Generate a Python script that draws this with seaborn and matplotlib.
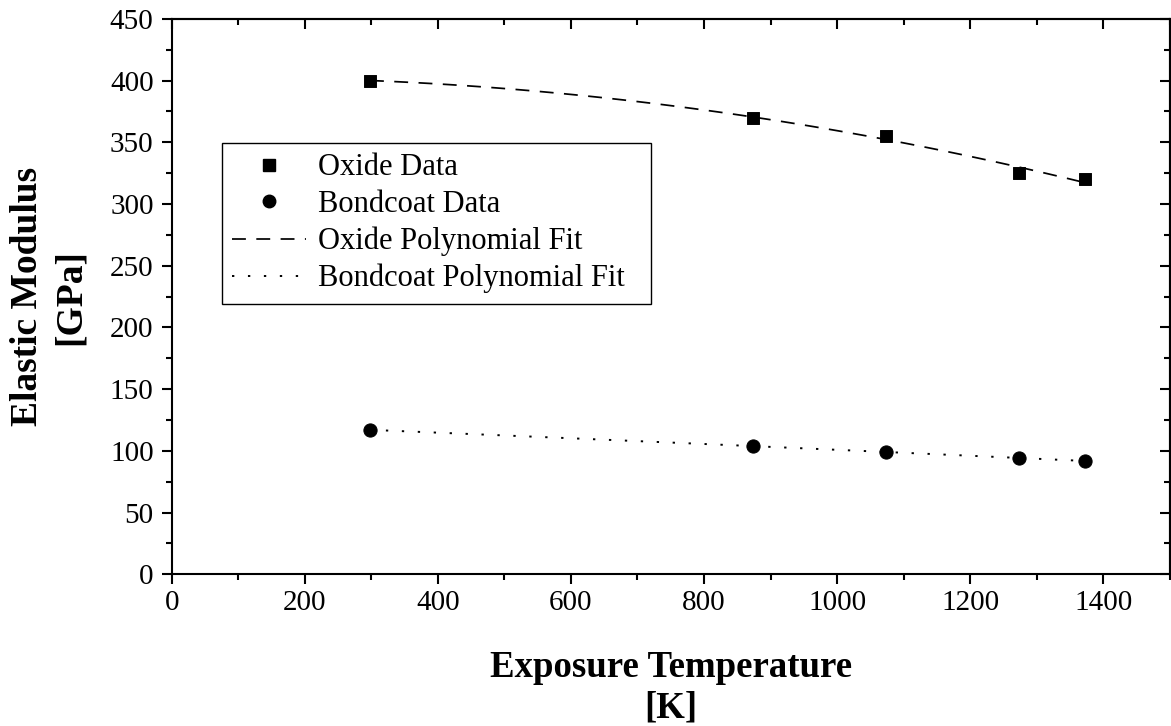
import numpy as np
import pandas as pd
import matplotlib
matplotlib.use("Agg")
import matplotlib.pyplot as plt
import seaborn as sns
from matplotlib.lines import Line2D
from matplotlib.ticker import MultipleLocator

temperature = [298, 873, 1073, 1273, 1373]
oxide_modulus = [400, 370, 355, 325, 320]
bondcoat_modulus = [117, 104, 99, 94, 92]
x_ticks = [0, 200, 400, 600, 800, 1000, 1200, 1400]
x_tick_labels = ["0", "200", "400", "600", "800", "1000", "1200", "1400"]
legend_names = ["Oxide Data", "Bondcoat Data", "Oxide Polynomial Fit", "Bondcoat Polynomial Fit"]

sns.set_style("ticks")
plt.rcParams['font.family'] = ['Liberation Serif', 'DejaVu Serif']
plt.rcParams['text.color'] = 'black'
plt.rcParams['axes.labelcolor'] = 'black'
plt.rcParams['xtick.color'] = 'black'
plt.rcParams['ytick.color'] = 'black'

df = pd.DataFrame({"T": temperature, "oxide": oxide_modulus, "bond": bondcoat_modulus})

DASH = (0, (8, 6))
DOT = (0, (1.2, 7))

fig = plt.figure(figsize=(11.71, 7.26), dpi=100)
ax = fig.add_axes([0.1466, 0.209, 0.8524, 0.765])

sns.regplot(data=df, x="T", y="oxide", order=2, ci=None, scatter=False, ax=ax,
            line_kws=dict(color="black", linestyle=DASH, linewidth=1.25))
sns.regplot(data=df, x="T", y="bond", order=2, ci=None, scatter=False, ax=ax,
            line_kws=dict(color="black", linestyle=DOT, linewidth=1.4))
sns.scatterplot(data=df, x="T", y="oxide", marker="s", s=70, color="black", edgecolor="black", ax=ax, zorder=5)
sns.scatterplot(data=df, x="T", y="bond", marker="o", s=90, color="black", edgecolor="black", ax=ax, zorder=5)

ax.set_xlim(0, 1500)
ax.set_ylim(0, 450)
ax.set_xticks(x_ticks)
ax.set_xticklabels(x_tick_labels)
ax.xaxis.set_minor_locator(MultipleLocator(100))
ax.yaxis.set_major_locator(MultipleLocator(50))
ax.yaxis.set_minor_locator(MultipleLocator(25))

for s in ax.spines.values():
    s.set_visible(True)
    s.set_linewidth(1.5)
    s.set_color("black")

ax.tick_params(which="major", direction="out", length=7.5, width=1.5, labelsize=21)
ax.tick_params(which="minor", direction="out", length=4, width=1.5)
ax.tick_params(axis="x", which="major", pad=3.5)
ax.tick_params(axis="y", which="major", pad=5.5)

top = ax.secondary_xaxis('top')
top.set_xticks(x_ticks)
top.xaxis.set_minor_locator(MultipleLocator(100))
top.tick_params(which="major", direction="in", length=7.5, width=1.5, labeltop=False)
top.tick_params(which="minor", direction="in", length=4, width=1.5)
top.spines['top'].set_linewidth(1.5)
right = ax.secondary_yaxis('right')
right.yaxis.set_major_locator(MultipleLocator(50))
right.yaxis.set_minor_locator(MultipleLocator(25))
right.tick_params(which="major", direction="in", length=7.5, width=1.5, labelright=False)
right.tick_params(which="minor", direction="in", length=4, width=1.5)
right.spines['right'].set_linewidth(1.5)

ax.set_xlabel("Exposure Temperature\n[K]", fontsize=26.5, fontweight="bold", labelpad=25, linespacing=1.2)
ax.set_ylabel("Elastic Modulus\n[GPa]", fontsize=27, fontweight="bold", labelpad=16, linespacing=1.3)

handles = [
    Line2D([], [], marker="s", linestyle="none", color="black", markersize=8),
    Line2D([], [], marker="o", linestyle="none", color="black", markersize=9),
    Line2D([], [], linestyle=DASH, color="black", linewidth=1.25),
    Line2D([], [], linestyle=DOT, color="black", linewidth=1.4),
]
leg = ax.legend(handles, [n + "  " for n in legend_names], loc="upper left", bbox_to_anchor=(0.05, 0.777),
                borderaxespad=0, fontsize=22, frameon=True, fancybox=False, shadow=False,
                handlelength=2.4, handletextpad=0.4, labelspacing=0.25, borderpad=0.35)
leg.get_frame().set_edgecolor("black")
leg.get_frame().set_linewidth(1.0)
leg.get_frame().set_alpha(1)

fig.savefig("out.png", dpi=100)
